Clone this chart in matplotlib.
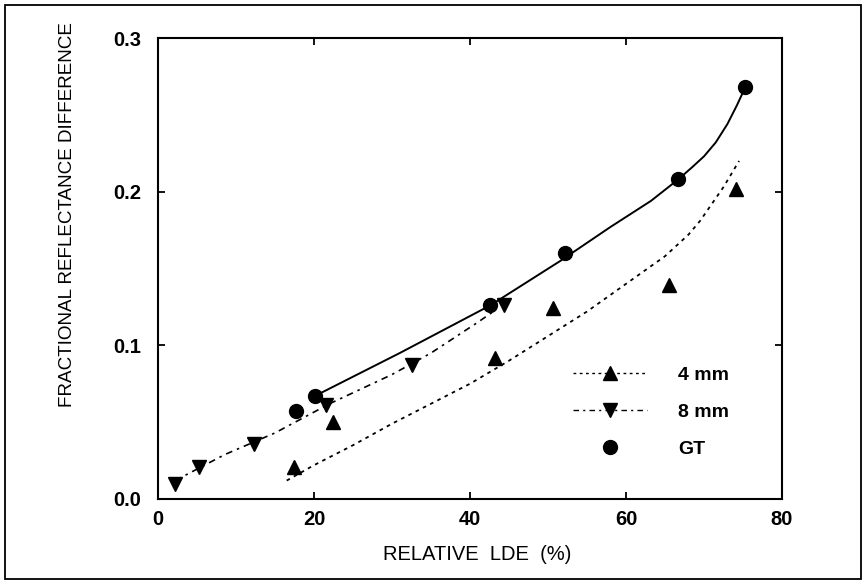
import matplotlib
matplotlib.use("Agg")
import matplotlib.pyplot as plt
from matplotlib.patches import Rectangle
from matplotlib.lines import Line2D

plt.rcParams['font.family'] = ['Liberation Sans', 'DejaVu Sans']

# ---- data ----
x_4mm = [17.4, 22.4, 43.2, 50.7, 65.5, 74.1]
y_4mm = [0.021, 0.050, 0.092, 0.124, 0.139, 0.202]

x_8mm = [2.2, 5.2, 12.3, 21.5, 32.5, 44.3]
y_8mm = [0.010, 0.021, 0.036, 0.061, 0.087, 0.126]

x_gt = [17.7, 20.1, 42.6, 52.2, 66.7, 75.3]
y_gt = [0.057, 0.067, 0.126, 0.160, 0.208, 0.268]

# fitted curves
fit_4mm_x = [16.5, 20, 25, 30, 35, 40, 45, 50, 55, 60, 65, 68, 69.5, 71, 72.5, 74.5]
fit_4mm_y = [0.012, 0.022, 0.035, 0.049, 0.062, 0.075, 0.090, 0.106, 0.122, 0.140,
             0.158, 0.172, 0.181, 0.192, 0.203, 0.220]

fit_8mm_x = [2.2, 8.6, 15, 22, 30, 35, 41, 43]
fit_8mm_y = [0.012, 0.029, 0.043, 0.062, 0.081, 0.095, 0.115, 0.122]

fit_gt_x = [20.1, 31, 42.6, 51.6, 58, 63.2, 66.7, 68.5, 70, 71.5, 73, 74.2, 75.3]
fit_gt_y = [0.067, 0.095, 0.126, 0.155, 0.177, 0.194, 0.208, 0.216, 0.223, 0.232,
            0.244, 0.256, 0.268]

xticks = [0, 20, 40, 60, 80]
yticks = [0.0, 0.1, 0.2, 0.3]
ytick_labels = ['0.0', '0.1', '0.2', '0.3']
series_labels = ['4 mm', '8 mm', 'GT']

W, H = 863, 586
fig = plt.figure(figsize=(W / 100, H / 100), dpi=100)
ax = fig.add_axes([158 / W, 1 - 499 / H, (782 - 158) / W, (499 - 38) / H])

ls_4mm = (0, (2, 2.5))
ls_8mm = (0, (4, 3, 1.5, 3))

ax.plot(fit_4mm_x, fit_4mm_y, color='black', lw=1.3, linestyle=ls_4mm)
ax.plot(fit_8mm_x, fit_8mm_y, color='black', lw=1.2, linestyle=ls_8mm)
ax.plot(fit_gt_x, fit_gt_y, color='black', lw=1.4, linestyle='-')

ax.plot(x_4mm, y_4mm, marker='^', ms=9.5, color='black', linestyle='None')
ax.plot(x_8mm, y_8mm, marker='v', ms=9.5, color='black', linestyle='None')
ax.plot(x_gt, y_gt, marker='o', ms=10, color='black', linestyle='None')

lh1 = Line2D([], [], color='black', marker='^', ms=9.5, linestyle=ls_4mm, lw=1.0)
lh2 = Line2D([], [], color='black', marker='v', ms=9.5, linestyle=ls_8mm, lw=1.0)
lh3 = Line2D([], [], color='black', marker='o', ms=10, linestyle='None')

ax.legend([lh1, lh2, lh3], series_labels, loc='upper left',
          bbox_to_anchor=(573 / W, 1 - 366 / H), bbox_transform=fig.transFigure,
          frameon=False, borderpad=0, borderaxespad=0, handlelength=3.8,
          handletextpad=1.6, labelspacing=1.0, numpoints=1,
          prop={'size': 14, 'weight': 'bold'})

ax.set_xlim(0, 80)
ax.set_ylim(0, 0.3)
ax.set_xticks(xticks)
ax.set_yticks(yticks)
ax.set_yticklabels(ytick_labels)
ax.tick_params(direction='in', length=5, width=1.3, top=True, right=True,
               labelsize=14.5)
ax.tick_params(axis='x', pad=8)
ax.tick_params(axis='y', pad=12)
for lab in ax.get_xticklabels() + ax.get_yticklabels():
    lab.set_fontweight('bold')
for s in ax.spines.values():
    s.set_linewidth(1.5)

fig.text(477 / W, 1 - 555 / H, 'RELATIVE  LDE  (%)', ha='center', va='center',
         fontsize=14.5)
fig.text(68 / W, 1 - 215 / H, 'FRACTIONAL REFLECTANCE DIFFERENCE', ha='center',
         va='center', rotation=90, fontsize=13.6)

fig.patches.append(Rectangle((5 / W, 1 - 579 / H), (861 - 5) / W, (579 - 5) / H,
                             transform=fig.transFigure, fill=False, lw=1.3,
                             edgecolor='black'))

fig.savefig('out.png', dpi=100)
